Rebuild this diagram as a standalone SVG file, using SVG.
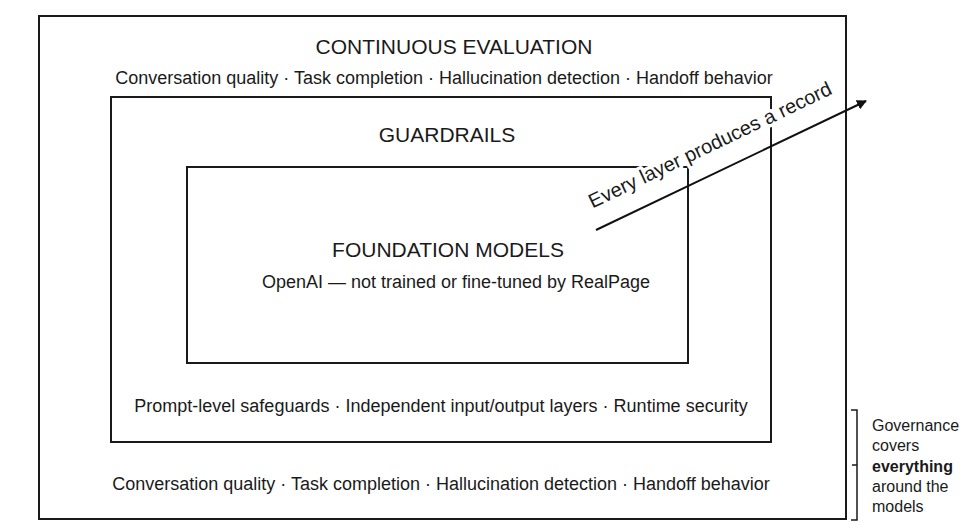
<svg xmlns="http://www.w3.org/2000/svg" width="968" height="528" viewBox="0 0 968 528">
<style>
.box{fill:none;stroke:#1a1a1a;stroke-width:2}
text{font-family:"Liberation Sans",Arial,sans-serif;fill:#1a1a1a}
.t{font-size:21px;text-anchor:middle}
.s{font-size:18px;text-anchor:middle}
.g{font-size:16px}
</style>
<defs><marker id="ah" markerWidth="10" markerHeight="10" refX="9" refY="5" orient="auto" markerUnits="userSpaceOnUse"><path d="M0,0 L10,5 L0,10 z" fill="#111"/></marker></defs>
<rect width="968" height="528" fill="#fff"/>
<g id="continuous-evaluation"><rect class="box" x="39" y="16" width="807" height="503"/>
<text class="t" x="454" y="54">CONTINUOUS EVALUATION</text>
<text class="s" x="444" y="84">Conversation quality · Task completion · Hallucination detection · Handoff behavior</text>
<text class="s" x="441" y="490">Conversation quality · Task completion · Hallucination detection · Handoff behavior</text></g>
<g id="guardrails"><rect class="box" x="111" y="97" width="660" height="345"/>
<text class="t" x="447" y="142">GUARDRAILS</text>
<text class="s" x="441" y="412">Prompt-level safeguards · Independent input/output layers · Runtime security</text></g>
<g id="foundation-models"><rect class="box" x="187" y="167" width="501" height="196"/>
<text class="t" x="448" y="257">FOUNDATION MODELS</text>
<text class="s" x="456" y="288">OpenAI — not trained or fine-tuned by RealPage</text></g>
<g id="record-label"><text x="713" y="151" font-size="20" text-anchor="middle" transform="rotate(-25.5 713 151)" stroke="#fff" stroke-width="7" paint-order="stroke" stroke-linejoin="round">Every layer produces a record</text></g>
<g id="connectors"><line x1="596" y1="230" x2="866" y2="101" stroke="#111" stroke-width="2" marker-end="url(#ah)"/>
<path d="M851,410 H857 V520 H851 M857,465 H852" fill="none" stroke="#1a1a1a" stroke-width="1.5"/></g>
<g id="governance"><text class="g" x="872" y="431">Governance</text><text class="g" x="872" y="451">covers</text><text class="g" x="872" y="472" font-weight="bold">everything</text><text class="g" x="872" y="492">around the</text><text class="g" x="872" y="512">models</text></g>
</svg>
